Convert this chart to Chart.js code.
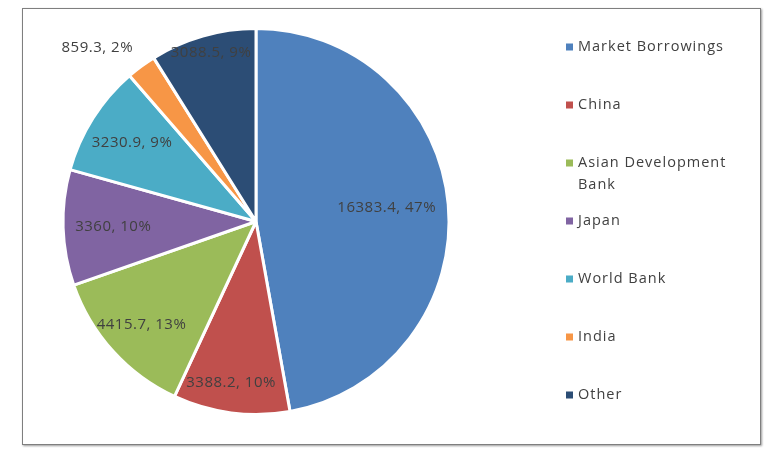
<!DOCTYPE html>
<html>
<head>
<meta charset="utf-8">
<script src="https://cdn.jsdelivr.net/npm/chart.js@4.4.1/dist/chart.umd.min.js"></script>
<style>
    html, body { margin: 0; padding: 0; background: #ffffff; }
    #frame {
        position: absolute; left: 22px; top: 8px; width: 737px; height: 435px;
        border: 1px solid #7f7f7f; box-shadow: 1px 1px 2px #9a9a9a;
    }
    #wrap { position: absolute; left: 0; top: 0; width: 782px; height: 454px; }
</style>
</head>
<body>
<div id="frame"></div>
<div id="wrap"><canvas id="pieChart"></canvas></div>
<script>
const labels = ["Market Borrowings", "China", "Asian Development Bank", "Japan", "World Bank", "India", "Other"];
const legendLines = [["Market Borrowings"], ["China"], ["Asian Development", "Bank"], ["Japan"], ["World Bank"], ["India"], ["Other"]];
const values = [16383.4, 3388.2, 4415.7, 3360, 3230.9, 859.3, 3088.5];
const colors = ["#4f81bd", "#c0504d", "#9bbb59", "#8064a2", "#4bacc6", "#f79646", "#2c4d75"];

// where each data label sits: fraction of radius, plus pixel nudge
const labelSpots = [
    {r: 0.68, dx: 0, dy: -2},
    {r: 0.84, dx: -4, dy: 0},
    {r: 0.80, dx: 0, dy: 0},
    {r: 0.74, dx: 0, dy: 1},
    {r: 0.76, dx: 0, dy: 0},
    {r: 1.0, dx: -44, dy: -19},
    {r: 0.92, dx: 4, dy: 2}
];

const sliceLabels = {
    id: "sliceLabels",
    afterDatasetsDraw(chart) {
        const ctx = chart.ctx;
        const meta = chart.getDatasetMeta(0);
        const data = chart.data.datasets[0].data;
        const total = data.reduce((a, b) => a + b, 0);
        ctx.save();
        ctx.font = "15px 'Open Sans'";
        ctx.letterSpacing = "0.5px";
        ctx.fillStyle = "#404040";
        ctx.textAlign = "center";
        ctx.textBaseline = "middle";
        meta.data.forEach((arc, i) => {
            const mid = (arc.startAngle + arc.endAngle) / 2;
            const spot = labelSpots[i];
            const x = arc.x + Math.cos(mid) * arc.outerRadius * spot.r + spot.dx;
            const y = arc.y + Math.sin(mid) * arc.outerRadius * spot.r + spot.dy;
            const pct = Math.round(data[i] / total * 100);
            ctx.fillText(data[i] + ", " + pct + "%", x, y);
        });
        ctx.restore();
    }
};

const sideLegend = {
    id: "sideLegend",
    afterDraw(chart) {
        const ctx = chart.ctx;
        ctx.save();
        ctx.font = "14.5px 'Open Sans'";
        ctx.letterSpacing = "1px";
        ctx.textBaseline = "middle";
        let y = 47;
        legendLines.forEach((lines, i) => {
            ctx.fillStyle = colors[i];
            ctx.fillRect(566, y - 3.5, 7, 7);
            ctx.fillStyle = "#404040";
            lines.forEach((t, k) => ctx.fillText(t, 578, y + k * 22));
            y += 58;
        });
        ctx.restore();
    }
};

new Chart(document.getElementById("pieChart"), {
    type: "pie",
    data: {
        labels: labels,
        datasets: [{
            data: values,
            backgroundColor: colors,
            borderColor: "#ffffff",
            borderWidth: 3
        }]
    },
    options: {
        responsive: true,
        maintainAspectRatio: false,
        animation: false,
        layout: { padding: { left: 61, top: 27, right: 331, bottom: 38 } },
        plugins: {
            legend: { display: false },
            tooltip: { enabled: false }
        }
    },
    plugins: [sliceLabels, sideLegend]
});
</script>
</body>
</html>
